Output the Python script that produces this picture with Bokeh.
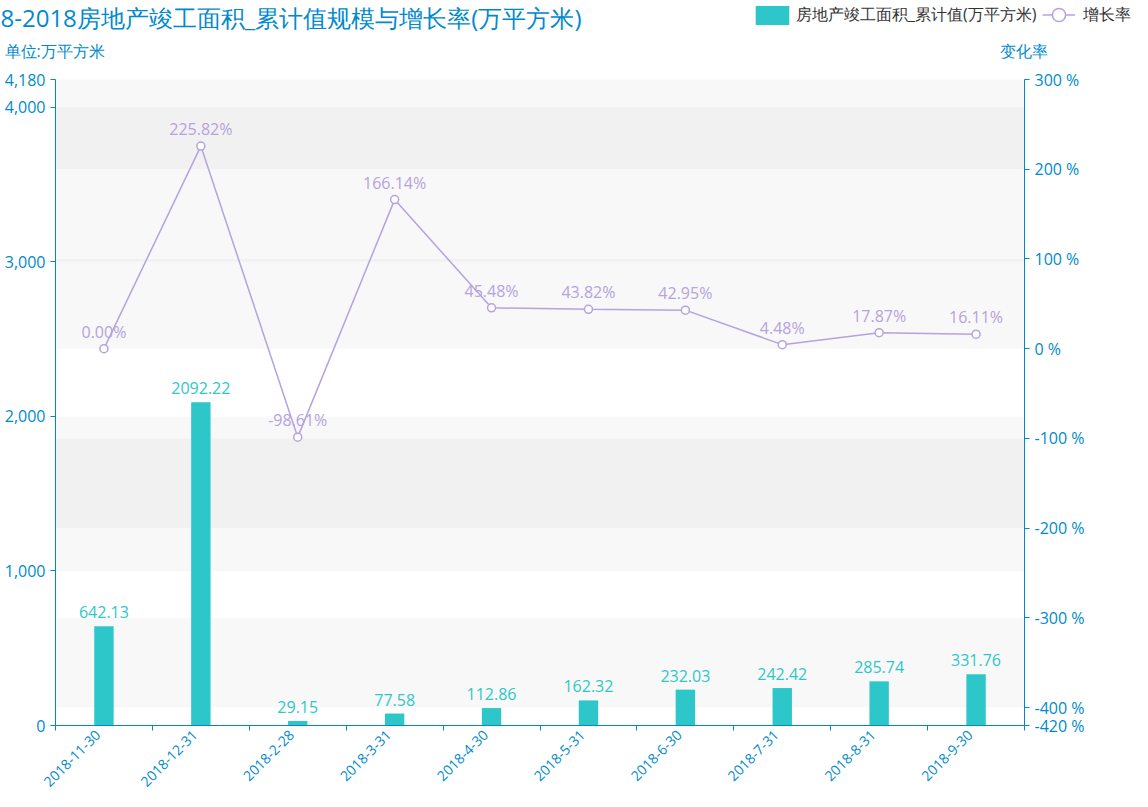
import numpy as np
from bokeh.plotting import figure
from bokeh.models import (ColumnDataSource, Range1d, LinearAxis, FixedTicker, NumeralTickFormatter,
                          PrintfTickFormatter, LabelSet, Label, Legend, LegendItem, BoxAnnotation)
from bokeh.core.properties import value
from bokeh.embed import file_html
from bokeh.resources import INLINE

# ---------------- data ----------------
categories = ["2018-11-30", "2018-12-31", "2018-2-28", "2018-3-31", "2018-4-30",
              "2018-5-31", "2018-6-30", "2018-7-31", "2018-8-31", "2018-9-30"]
area = [642.13, 2092.22, 29.15, 77.58, 112.86, 162.32, 232.03, 242.42, 285.74, 331.76]
rate = [0.00, 225.82, -98.61, 166.14, 45.48, 43.82, 42.95, 4.48, 17.87, 16.11]
left_ticks = [0, 1000, 2000, 3000, 4000, 4180]
right_ticks = [-420, -400, -300, -200, -100, 0, 100, 200, 300]

title_text = "8-2018房地产竣工面积_累计值规模与增长率(万平方米)"
bar_name = "房地产竣工面积_累计值(万平方米)"
line_name = "增长率"
left_unit = "单位:万平方米"
right_unit = "变化率"

# ---------------- styles / layout ----------------
BLUE = "#008acd"
TEAL = "#2ec7c9"
PURPLE = "#b6a2de"
FONT = "Open Sans"

W, H = 1132, 791
ML, MR, MT, MB = 55, 108, 79, 66     # plot-area margins inside canvas
FW, FH = W - ML - MR, H - MT - MB

n = len(categories)
xc = np.arange(n) + 0.5

# ranges extended so the whole canvas is the frame (texts outside plot area are not clipped)
kx = FW / n
x0, x1 = 0 - ML / kx, n + MR / kx
ly0, ly1 = left_ticks[0], left_ticks[-1]
ky = FH / (ly1 - ly0)
ry0, ry1 = right_ticks[0], right_ticks[-1]
kr = FH / (ry1 - ry0)

src = ColumnDataSource(dict(
    x=xc, area=area, rate=rate, cat=categories,
    area_lbl=["%.2f" % v for v in area],
    rate_lbl=["%.2f%%" % v for v in rate],
    zero=[0] * n,
))

p = figure(width=W, height=H, output_backend="svg", toolbar_location=None,
           x_range=Range1d(x0, x1), y_range=Range1d(ly0 - MB / ky, ly1 + MT / ky),
           x_axis_location=None, y_axis_location=None, min_border=0)
p.extra_y_ranges = {"rate": Range1d(ry0 - MB / kr, ry1 + MT / kr)}
p.outline_line_color = None
p.grid.visible = False
p.background_fill_color = "white"
p.border_fill_color = "white"

# split areas (alternating) for both axes
for i in range(len(left_ticks) - 1):
    if i % 2 == 1:
        p.add_layout(BoxAnnotation(left=0, right=n, bottom=left_ticks[i], top=left_ticks[i + 1],
                                   fill_color="#c8c8c8", fill_alpha=0.12, line_color=None,
                                   level="underlay"))
for i in range(len(right_ticks) - 1):
    if i % 2 == 1:
        p.add_layout(BoxAnnotation(left=0, right=n, bottom=right_ticks[i], top=right_ticks[i + 1],
                                   y_range_name="rate",
                                   fill_color="#c8c8c8", fill_alpha=0.12, line_color=None,
                                   level="underlay"))

bars = p.vbar(x="x", top="area", width=0.2, source=src, fill_color=TEAL, line_color=None)
ln = p.line(x="x", y="rate", source=src, y_range_name="rate", line_color=PURPLE, line_width=1.5)
pts = p.scatter(x="x", y="rate", source=src, y_range_name="rate", size=8, marker="circle",
                fill_color="white", line_color=PURPLE, line_width=1.5)

# value labels
p.add_layout(LabelSet(x="x", y="area", text="area_lbl", source=src, y_offset=8,
                      text_align="center", text_baseline="alphabetic",
                      text_font=value(FONT), text_font_size="16px", text_color=TEAL))
p.add_layout(LabelSet(x="x", y="rate", text="rate_lbl", source=src, y_range_name="rate",
                      y_offset=11, text_align="center", text_baseline="alphabetic",
                      text_font=value(FONT), text_font_size="16px", text_color=PURPLE))

# axes (fixed inside the frame)
def style_axis(ax):
    ax.axis_line_color = BLUE
    ax.axis_line_width = 1
    ax.major_tick_line_color = BLUE
    ax.major_tick_in = 0
    ax.major_tick_out = 5
    ax.minor_tick_line_color = None
    ax.major_label_text_color = BLUE
    ax.major_label_text_font = FONT
    ax.major_label_text_font_size = "16px"
    ax.major_label_standoff = 5

xa = LinearAxis(fixed_location=0, bounds=(0, n))
style_axis(xa)
xa.ticker = FixedTicker(ticks=list(range(n + 1)))
xa.major_label_overrides = {i: "" for i in range(n + 1)}
xa.major_label_text_font_size = "0px"
p.add_layout(xa, "below")

ya = LinearAxis(fixed_location=0, bounds=(ly0, ly1))
style_axis(ya)
ya.ticker = FixedTicker(ticks=left_ticks)
ya.formatter = NumeralTickFormatter(format="0,0")
p.add_layout(ya, "left")

ra = LinearAxis(y_range_name="rate", fixed_location=n, bounds=(ry0, ry1))
style_axis(ra)
ra.ticker = FixedTicker(ticks=right_ticks)
ra.formatter = PrintfTickFormatter(format="%d %%")
p.add_layout(ra, "right")

# category labels, rotated 45 degrees
p.add_layout(LabelSet(x="x", y="zero", text="cat", source=src, angle=np.pi / 4,
                      x_offset=-6, y_offset=-7, text_align="right", text_baseline="middle",
                      text_font=value(FONT), text_font_size="14px", text_color=BLUE))

# title and unit labels (screen units, from the canvas bottom-left)
p.add_layout(Label(x=0, y=H - 17, x_units="screen", y_units="screen", text=title_text,
                   text_font=FONT, text_font_size="24px", text_color=BLUE,
                   text_baseline="middle", text_align="left"))
p.add_layout(Label(x=4, y=H - 50, x_units="screen", y_units="screen", text=left_unit,
                   text_font=FONT, text_font_size="16px", text_color=BLUE,
                   text_baseline="middle", text_align="left"))
p.add_layout(Label(x=999, y=H - 50, x_units="screen", y_units="screen", text=right_unit,
                   text_font=FONT, text_font_size="16px", text_color=BLUE,
                   text_baseline="middle", text_align="left"))

# legends
lg1 = Legend(items=[LegendItem(label=bar_name, renderers=[bars])],
             location=(751, H - 26.6), orientation="horizontal",
             glyph_width=42, glyph_height=24, label_standoff=3, padding=0, margin=0,
             border_line_color=None, background_fill_alpha=0,
             label_text_font=FONT, label_text_font_size="16px", label_text_color="#333333")
lg2 = Legend(items=[LegendItem(label=line_name, renderers=[ln, pts])],
             location=(1042, H - 31.5), orientation="horizontal",
             glyph_width=33, glyph_height=35, label_standoff=8, padding=0, margin=0,
             border_line_color=None, background_fill_alpha=0,
             label_text_font=FONT, label_text_font_size="16px", label_text_color="#333333")
p.add_layout(lg1)
p.add_layout(lg2)

open("out.html", "w").write(file_html(p, INLINE))
